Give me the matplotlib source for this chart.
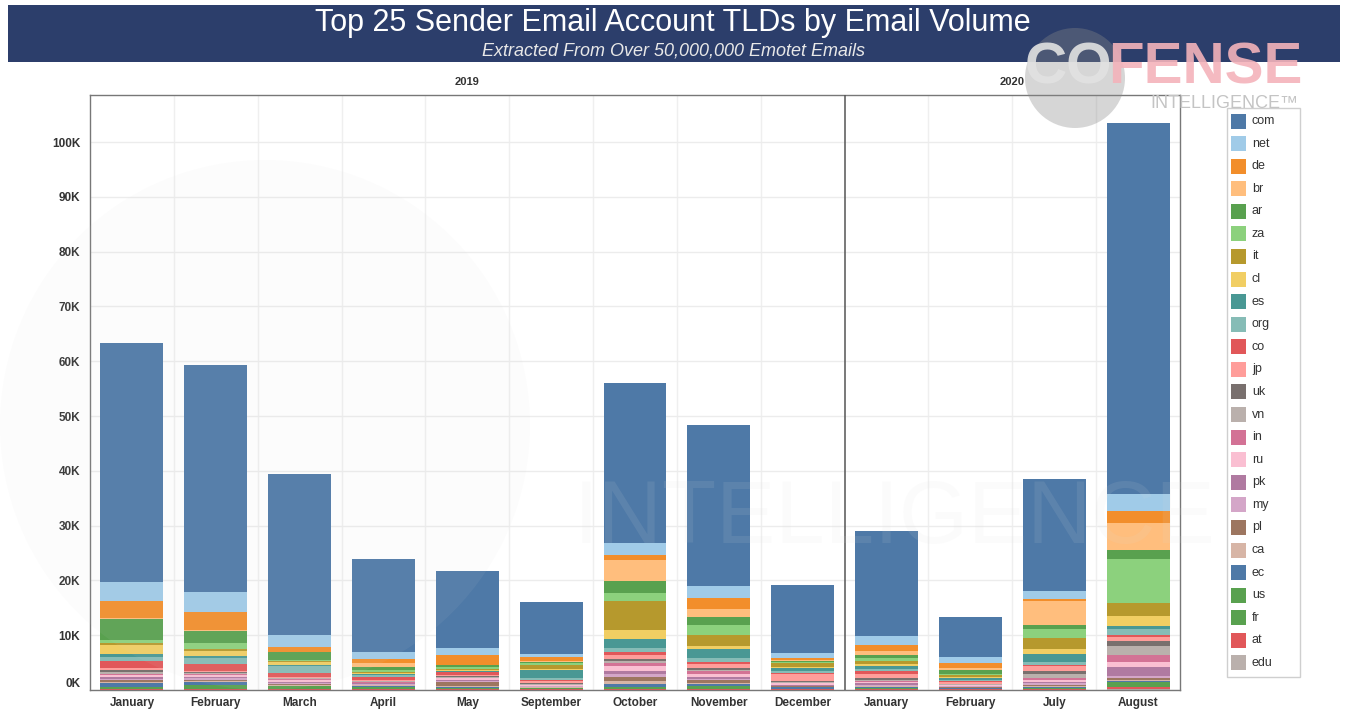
import matplotlib
matplotlib.use("Agg")
import matplotlib.pyplot as plt
import numpy as np
from matplotlib.patches import Rectangle, Circle
from matplotlib.ticker import FuncFormatter

plt.rcParams["font.family"] = ["Liberation Sans", "DejaVu Sans"]

# ---- data (thousands of emails per month) ----
months = ["January", "February", "March", "April", "May", "September",
          "October", "November", "December",
          "January", "February", "July", "August"]
n_2019 = 9

tlds = ["com", "net", "de", "br", "ar", "za", "it", "cl", "es", "org",
        "co", "jp", "uk", "vn", "in", "ru", "pk", "my", "pl", "ca",
        "ec", "us", "fr", "at", "edu"]
colors = ["#4E79A7", "#A0CBE8", "#F28E2B", "#FFBE7D", "#59A14F", "#8CD17D",
          "#B6992D", "#F1CE63", "#499894", "#86BCB6", "#E15759", "#FF9D9A",
          "#79706E", "#BAB0AC", "#D37295", "#FABFD2", "#B07AA1", "#D4A6C8",
          "#9D7660", "#D7B5A6", "#4E79A7", "#59A14F", "#59A14F", "#E15759",
          "#BAB0AC"]

com = [43.5, 41.5, 29.4, 17.0, 14.1, 9.6, 29.2, 29.4, 12.4, 19.1, 7.2, 20.4, 67.8]
net = [3.5, 3.5, 2.2, 1.2, 1.2, 0.6, 2.1, 2.15, 0.85, 1.7, 1.2, 1.4, 3.05]
de = [3.1, 3.4, 0.8, 0.75, 1.8, 0.6, 1.05, 2.05, 0.4, 1.0, 0.9, 0.5, 2.15]
br = [0.2, 0.2, 0.1, 0.8, 0.1, 0.15, 3.8, 1.4, 0.2, 0.75, 0.3, 4.35, 4.95]
ar = [3.9, 2.1, 1.35, 0.6, 0.3, 0.3, 2.2, 1.5, 0.25, 0.7, 0.65, 0.8, 1.65]
za = [0.55, 1.1, 0.3, 0.3, 0.3, 0.3, 1.45, 1.85, 0.2, 0.4, 0.25, 1.65, 8.05]
it = [0.3, 0.3, 0.2, 0.15, 0.25, 0.8, 5.2, 2.0, 0.7, 0.55, 0.35, 2.0, 2.45]
cl = [1.6, 1.0, 0.4, 0.15, 0.15, 0.2, 1.7, 0.6, 0.2, 0.35, 0.25, 0.75, 1.7]
es = [0.5, 0.4, 0.3, 0.3, 0.15, 1.4, 1.55, 1.65, 0.45, 0.7, 0.25, 1.6, 0.6]
org = [0.85, 1.0, 1.3, 0.3, 0.15, 0.3, 0.75, 0.6, 0.4, 0.3, 0.25, 0.4, 1.1]
co = [1.3, 1.25, 0.6, 0.5, 0.5, 0.3, 0.6, 0.45, 0.15, 0.45, 0.25, 0.3, 0.4]
jp = [0.35, 0.25, 0.2, 0.15, 0.15, 0.4, 0.8, 0.8, 1.3, 0.75, 0.25, 0.8, 0.75]
uk = [0.3, 0.2, 0.15, 0.12, 0.15, 0.1, 0.35, 0.25, 0.25, 0.45, 0.1, 0.55, 0.8]
vn = [0.3, 0.2, 0.15, 0.12, 0.15, 0.1, 0.35, 0.25, 0.12, 0.2, 0.1, 0.9, 1.7]
in_ = [0.3, 0.25, 0.2, 0.12, 0.15, 0.1, 0.5, 0.6, 0.12, 0.2, 0.1, 0.25, 1.35]
ru = [0.35, 0.3, 0.2, 0.15, 0.35, 0.1, 0.9, 0.4, 0.25, 0.2, 0.1, 0.35, 0.9]
pk = [0.3, 0.2, 0.2, 0.12, 0.15, 0.1, 0.6, 0.4, 0.12, 0.2, 0.1, 0.25, 1.55]
my = [0.3, 0.25, 0.2, 0.12, 0.15, 0.1, 0.6, 0.3, 0.12, 0.2, 0.1, 0.35, 0.4]
pl = [0.3, 0.2, 0.15, 0.12, 0.7, 0.1, 0.6, 0.4, 0.1, 0.15, 0.1, 0.15, 0.35]
ca = [0.25, 0.2, 0.2, 0.1, 0.15, 0.1, 0.6, 0.3, 0.1, 0.15, 0.1, 0.15, 0.25]
ec = [0.6, 0.65, 0.15, 0.15, 0.15, 0.1, 0.5, 0.3, 0.25, 0.15, 0.1, 0.15, 0.2]
us = [0.35, 0.6, 0.5, 0.4, 0.3, 0.15, 0.3, 0.4, 0.1, 0.15, 0.1, 0.25, 0.5]
fr = [0.1, 0.1, 0.05, 0.1, 0.05, 0.05, 0.15, 0.2, 0.05, 0.1, 0.05, 0.1, 0.3]
at = [0.1, 0.1, 0.05, 0.05, 0.05, 0.05, 0.1, 0.1, 0.05, 0.05, 0.05, 0.05, 0.45]
edu = [0.05, 0.05, 0.05, 0.05, 0.05, 0.05, 0.05, 0.05, 0.05, 0.05, 0.05, 0.05, 0.15]

volumes = [com, net, de, br, ar, za, it, cl, es, org, co, jp, uk, vn, in_,
           ru, pk, my, pl, ca, ec, us, fr, at, edu]

# ---- figure ----
W, H = 1349, 717
fig = plt.figure(figsize=(W / 100, H / 100), dpi=100)
fig.patch.set_facecolor("white")

ax = fig.add_axes([90 / W, 1 - 690 / H, (1180 - 90) / W, (690 - 95) / H], zorder=1)
ax.patch.set_alpha(0)

x = np.arange(len(months))
bottom = np.zeros(len(months))
# stack from the last TLD (bottom) up to com (top)
for name, vals, col in reversed(list(zip(tlds, volumes, colors))):
    v = np.array(vals) * 1000
    ax.bar(x, v, 0.75, bottom=bottom, color=col, linewidth=0, zorder=2)
    bottom += v

ax.set_xlim(-0.5, len(months) - 0.5)
ax.set_ylim(0, 108600)
ax.set_yticks(np.arange(0, 100001, 10000))
ax.yaxis.set_major_formatter(FuncFormatter(lambda v, p: f"{v / 1000:.0f}K"))
ax.yaxis.grid(True, color="#ececec", linewidth=1, zorder=0)
ax.set_axisbelow(True)
for i in range(1, len(months)):
    if i == n_2019:
        ax.axvline(i - 0.5, color="#555555", linewidth=1.1, zorder=3)
    else:
        ax.axvline(i - 0.5, color="#efefef", linewidth=1, zorder=0)

ax.set_xticks(x)
ax.set_xticklabels(months)
ax.tick_params(length=0, labelsize=8.5, colors="#333333")
ax.tick_params(axis="x", pad=5)
ax.tick_params(axis="y", pad=7)
for lab in ax.get_xticklabels() + ax.get_yticklabels():
    lab.set_fontweight("bold")
ax.get_yticklabels()[0].set_va("bottom")

for s in ax.spines.values():
    s.set_color("#777777")
    s.set_linewidth(1)

# pane headers
tr = ax.get_xaxis_transform()
ax.text((n_2019 - 1) / 2, 1.022, "2019", transform=tr, ha="center", va="center",
        fontsize=8, fontweight="bold", color="#333333")
ax.text((n_2019 + len(months) - 1) / 2, 1.022, "2020", transform=tr, ha="center",
        va="center", fontsize=8, fontweight="bold", color="#333333")

# ---- overlay: banner, logo, legend ----
ov = fig.add_axes([0, 0, 1, 1], zorder=5)
ov.set_xlim(0, W)
ov.set_ylim(H, 0)
ov.axis("off")
ov.patch.set_alpha(0)

# faint big watermark
ov.add_patch(Circle((265, 425), 265, facecolor="#d8d8d8", alpha=0.07, linewidth=0))
ov.text(895, 520, "INTELLIGENCE", fontsize=64, color="#dddddd", alpha=0.10,
        ha="center", va="center")

ov.add_patch(Rectangle((8, 5), 1332, 57, facecolor="#2C3E6B", linewidth=0))
ov.text(673, 23, "Top 25 Sender Email Account TLDs by Email Volume", color="white",
        fontsize=22, ha="center", va="center")
ov.text(673, 51, "Extracted From Over 50,000,000 Emotet Emails", color="#e8e8e8",
        fontsize=13, style="italic", ha="center", va="center")

# logo
ov.add_patch(Circle((1075, 78), 50, facecolor="#8a8a8a", alpha=0.35, linewidth=0))
ov.text(1112, 68, "CO", fontsize=42, fontweight="bold", color="#e2e2e2",
        ha="right", va="center", alpha=0.9)
ov.text(1108, 68, "FENSE", fontsize=42, fontweight="bold", color="#f4b3bb",
        ha="left", va="center", alpha=0.9)
ov.text(1298, 103, "INTELLIGENCE\u2122", fontsize=13, color="#c4c4c4",
        ha="right", va="center")

# legend
ov.add_patch(Rectangle((1227, 108), 73, 569, facecolor="white",
                       edgecolor="#cfcfcf", linewidth=1))
for i, (name, col) in enumerate(zip(tlds, colors)):
    yy = 121 + 22.58 * i
    ov.add_patch(Rectangle((1231, yy - 7.5), 15, 15, facecolor=col, linewidth=0))
    ov.text(1252, yy, name, fontsize=9, color="#333333", va="center", ha="left")

fig.savefig("out.png", dpi=100)
